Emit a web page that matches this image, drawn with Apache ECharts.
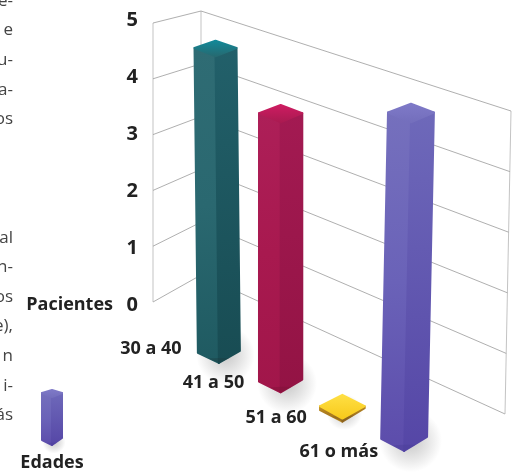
<!DOCTYPE html>
<html>
<head>
<meta charset="utf-8">
<style>html,body{margin:0;padding:0;background:#fff}#chart{width:513px;height:472px}</style>
<script src="https://cdn.jsdelivr.net/npm/echarts@6/dist/echarts.min.js"></script>
</head>
<body>
<div id="chart"></div>
<script>
// Pacientes por grupo de edad
const ageGroups = ['30 a 40', '41 a 50', '51 a 60', '61 o más'];
const patients = [5, 4.3, 0, 5];
const levels = [0, 1, 2, 3, 4, 5];
const sideText = ['e-', 'e', 'u-', 'a-', 'os', '', '', '', 'al', 'n-', 'os', 'e),', 'n', 'i-', 'ás'];
const legendTitle = 'Edades';
const yTitle = 'Pacientes';

const palettes = [
  { l: ['#2f6c74', '#2a6870', '#1f5a61'], r: ['#22606a', '#184c53'], top: ['#128a9a', '#27686f'], foot: '#1c3d42' },
  { l: ['#ad1f58', '#a8194f', '#a1164a'], r: ['#a31a52', '#931344'], top: ['#cf1c62', '#a81a50'], foot: '#7e1238' },
  { l: ['#c69320', '#a9791e', '#b98820'], r: ['#b98820', '#8f6420'], top: ['#ffe045', '#f7c91a'], foot: '#7d5a20' },
  { l: ['#7570bd', '#6a62b8', '#5c4cab'], r: ['#6e69ba', '#5546a6'], top: ['#7f7ac8', '#736ebc'], foot: '#4c3f99' }
];
const legendPalette = palettes[3];

const GRID = { left: 188, right: 78, top: 20, bottom: 167 };
const INK = '#222';
const FONT = '"Open Sans", "Noto Sans", sans-serif';

// Wall corners at the bottom and top of the value axis
const lerp = (a, b, t) => a + (b - a) * t;
const wallLeft = t => [153, lerp(302, 23, t)];
const wallBack = t => [201, lerp(275, 11, t)];
const wallRight = t => [lerp(505, 511, t), lerp(414, 111, t)];

const gradient = (stops, x2, y2) => ({
  type: 'linear', x: 0, y: 0, x2, y2,
  colorStops: stops.map((c, i) => ({ offset: i / (stops.length - 1), color: c }))
});

// Rectangular prism seen from a corner: two side faces, a lid and a soft floor shadow
function prism(bx, by, tx, ty, halfW, dhBase, dhTop, pal, shadow) {
  const parts = [];
  if (shadow) {
    parts.push({
      type: 'ellipse', silent: true,
      shape: { cx: bx + shadow * 0.25, cy: by - dhBase + 2, rx: halfW + shadow * 1.6, ry: dhBase + shadow * 0.7 },
      style: {
        fill: {
          type: 'radial', x: 0.5, y: 0.5, r: 0.5,
          colorStops: [{ offset: 0, color: 'rgba(70,70,70,0.30)' }, { offset: 0.55, color: 'rgba(70,70,70,0.14)' }, { offset: 1, color: 'rgba(70,70,70,0)' }]
        }
      }
    });
  }
  const inset = 1;
  const w = halfW - inset;
  const tipF = [tx, ty + 2 * dhTop];
  const tL = [tx - w, ty + dhTop], tR = [tx + w, ty + dhTop], tB = [tx, ty + inset];
  const bL = [bx - w, by - dhBase], bR = [bx + w, by - dhBase - 2], bF = [bx, by - inset];
  const edge = { lineWidth: 2, lineJoin: 'round' };
  const left = gradient(pal.l, 0, 1), right = gradient(pal.r, 0, 1), lid = gradient(pal.top, 0, 1);
  parts.push({ type: 'polygon', shape: { points: [tL, tipF, bF, bL] }, style: Object.assign({ fill: left, stroke: left }, edge) });
  parts.push({ type: 'polygon', shape: { points: [tipF, tR, bR, bF] }, style: Object.assign({ fill: right, stroke: right }, edge) });
  parts.push({
    type: 'polygon',
    shape: { points: [[bx - w * 0.5, by - dhBase * 0.5], bF, [bx + w * 0.5, by - dhBase * 0.55], [bx, by - dhBase * 0.55]] },
    style: { fill: pal.foot, opacity: 0.45 }
  });
  parts.push({ type: 'polygon', shape: { points: [tL, tB, tR, tipF] }, style: Object.assign({ fill: lid, stroke: lid }, edge) });
  return parts;
}

function renderWalls(params, api) {
  const v = api.value(0);
  const zero = api.coord([0, 0])[1], full = api.coord([0, levels[levels.length - 1]])[1];
  const t = (zero - api.coord([0, v])[1]) / (zero - full);
  const children = [{
    type: 'polyline',
    shape: { points: [wallLeft(t), wallBack(t), wallRight(t)] },
    style: { fill: 'none', stroke: '#9a9a9a', lineWidth: 0.8 }
  }];
  if (params.dataIndex === 0) {
    [wallLeft, wallBack, wallRight].forEach(edge => children.push({
      type: 'line',
      shape: { x1: edge(0)[0], y1: edge(0)[1], x2: edge(1)[0], y2: edge(1)[1] },
      style: { stroke: '#b4b4b4', lineWidth: 0.8 }
    }));
  }
  return { type: 'group', children };
}

function renderBars(params, api) {
  const i = api.value(0), v = api.value(1);
  const foot = api.coord([i, 0]), head = api.coord([i, v]);
  // Floor runs diagonally towards the viewer; nearer bars grow slightly
  const by = foot[1] + 59 + (foot[0] - 219) * 0.475;
  const growth = 1.07 + 0.025 * i;
  const h = Math.max((foot[1] - head[1]) * growth, 4);
  const lean = (foot[0] - 280) * 0.055 * (v / 5);
  const dhBase = 11 + 0.7 * i;
  const dhTop = dhBase * (1 - 0.25 * v / 5);
  const halfW = 22 + 0.65 * i;
  const tx = foot[0] + lean;
  const ty = by - dhBase - h - dhTop;
  const children = prism(foot[0], by, tx, ty, halfW, dhBase, dhTop, palettes[i], v > 0 ? 26 : 8);
  children.push({
    type: 'text',
    style: {
      text: ageGroups[i],
      x: foot[0] - 68 + i * 0.9,
      y: by - 15 + i * 5,
      textAlign: 'center', textVerticalAlign: 'middle',
      font: 'bold 18px ' + FONT, fill: INK
    }
  });
  return { type: 'group', children };
}

const sideRows = sideText.map((s, i) => ({
  type: 'text', silent: true,
  style: { text: s, x: 13, y: 1 + i * 29.6, textAlign: 'right', textVerticalAlign: 'middle', font: '17px ' + FONT, fill: '#444' }
}));

const chart = echarts.init(document.getElementById('chart'), null, { renderer: 'canvas' });
chart.setOption({
  animation: false,
  backgroundColor: '#fff',
  grid: GRID,
  xAxis: { type: 'category', data: ageGroups, show: false },
  yAxis: {
    type: 'value', min: 0, max: 5, interval: 1,
    name: yTitle, nameLocation: 'start', nameGap: 0,
    nameTextStyle: { fontFamily: FONT, fontSize: 18, fontWeight: 'bold', color: INK, align: 'right', verticalAlign: 'middle', padding: [5, 75, 0, 0] },
    axisLine: { show: false }, axisTick: { show: false }, splitLine: { show: false },
    axisLabel: { margin: 50, fontFamily: FONT, fontSize: 20, fontWeight: 'bold', color: INK }
  },
  graphic: [
    ...sideRows,
    { type: 'group', silent: true, children: prism(52, 446, 52, 389, 11, 6, 4, legendPalette, 8) },
    {
      type: 'text', silent: true,
      style: { text: legendTitle, x: 52, y: 463, textAlign: 'center', textVerticalAlign: 'middle', font: 'bold 18px ' + FONT, fill: INK }
    }
  ],
  series: [
    { type: 'custom', silent: true, clip: false, z: 1, renderItem: renderWalls, data: levels.map(v => [v]), encode: { y: 0 } },
    { type: 'custom', silent: true, clip: false, z: 2, renderItem: renderBars, data: patients.map((v, i) => [i, v]), encode: { x: 0, y: 1 } }
  ]
});
</script>
</body>
</html>
